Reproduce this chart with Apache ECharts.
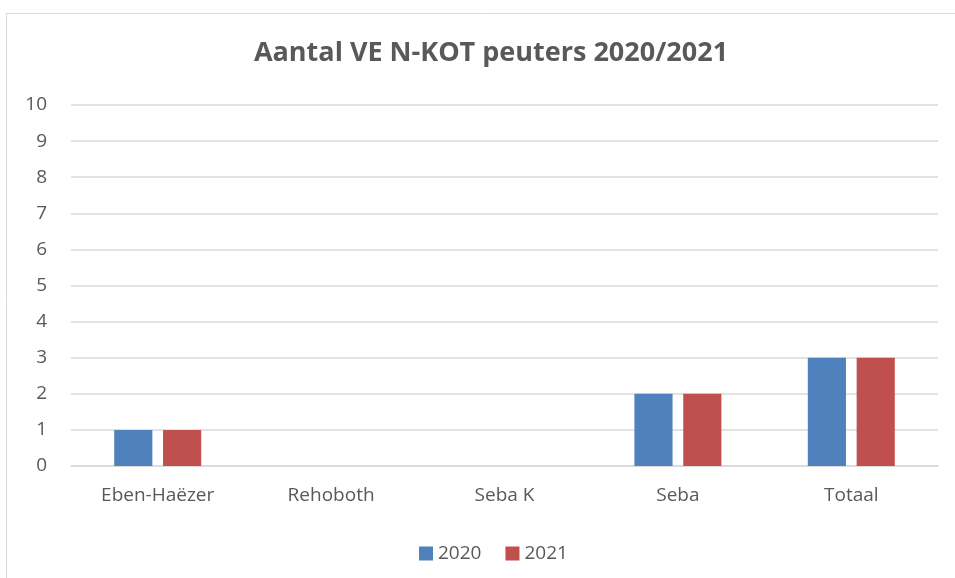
<!DOCTYPE html>
<html>
<head>
<meta charset="utf-8">
<script src="https://cdn.jsdelivr.net/npm/echarts@6/dist/echarts.min.js"></script>
<style>
  html, body { margin: 0; padding: 0; background: #fff; }
  #chart { width: 955px; height: 578px; }
</style>
</head>
<body>
<div id="chart"></div>
<script>
var categories = ['Eben-Haëzer', 'Rehoboth', 'Seba K', 'Seba', 'Totaal'];
var values2020 = [1, 0, 0, 2, 3];
var values2021 = [1, 0, 0, 2, 3];
var yTicks = [0, 10, 1]; // min, max, step

var font = '"Open Sans", "Liberation Sans", sans-serif';

var option = {
    backgroundColor: '#ffffff',
    color: ['#4f81bd', '#c0504d'],
    title: {
        text: 'Aantal VE N-KOT peuters 2020/2021',
        left: 486,
        textAlign: 'center',
        top: 35,
        textStyle: { fontFamily: font, fontSize: 27, fontWeight: 'bold', color: '#595959' }
    },
    graphic: [{
        type: 'rect',
        shape: { x: 6.5, y: 13.5, width: 1000, height: 1000 },
        style: { fill: 'none', stroke: '#d9d9d9', lineWidth: 1 },
        silent: true
    }],
    legend: {
        data: ['2020', '2021'],
        top: 539,
        left: 414,
        itemWidth: 14,
        itemHeight: 14,
        itemGap: 24,
        icon: 'rect',
        textStyle: { fontFamily: font, fontSize: 19, color: '#595959' }
    },
    grid: { left: 71, right: 17, top: 105, bottom: 112 },
    xAxis: {
        type: 'category',
        data: categories,
        axisLine: { lineStyle: { color: '#d9d9d9', width: 1.5 } },
        axisTick: { show: false },
        axisLabel: { fontFamily: font, fontSize: 19, color: '#595959', margin: 20 }
    },
    yAxis: {
        type: 'value',
        min: yTicks[0],
        max: yTicks[1],
        interval: yTicks[2],
        axisLine: { show: false },
        axisTick: { show: false },
        axisLabel: { fontFamily: font, fontSize: 19, color: '#595959', margin: 24 },
        splitLine: { lineStyle: { color: '#d9d9d9', width: 1.5 } }
    },
    series: [
        { name: '2020', type: 'bar', data: values2020, barWidth: '22%', barGap: '28%' },
        { name: '2021', type: 'bar', data: values2021, barWidth: '22%', barGap: '28%' }
    ]
};

var chart = echarts.init(document.getElementById('chart'));
chart.setOption(option);
window.onresize = chart.resize;
</script>
</body>
</html>
